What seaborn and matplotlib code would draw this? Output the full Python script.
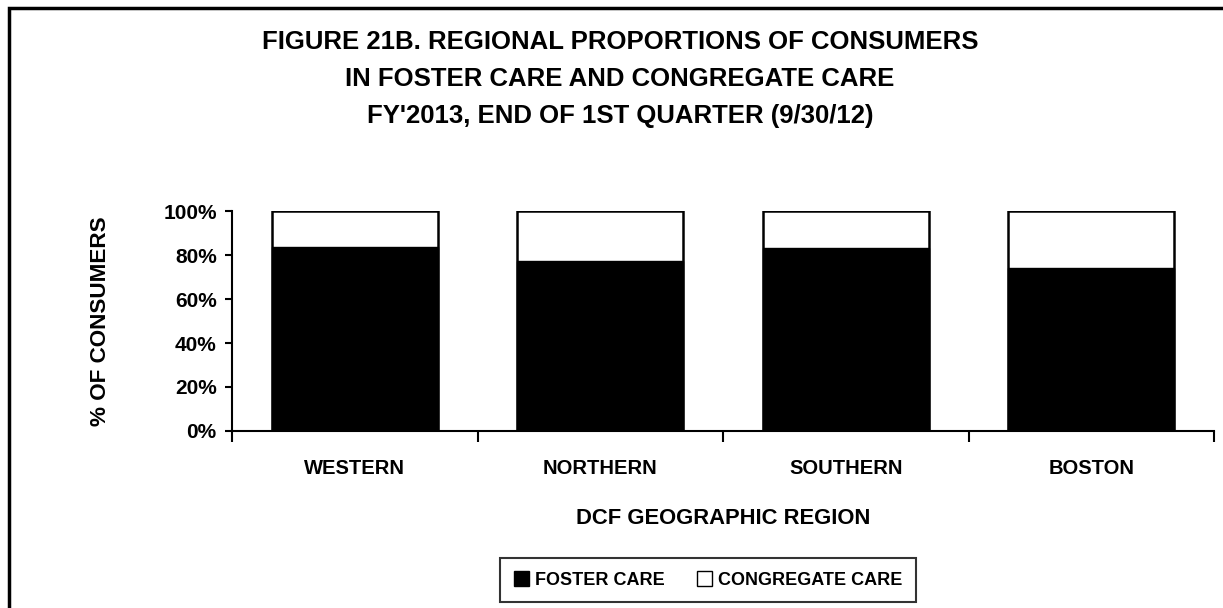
import matplotlib
matplotlib.use("Agg")
import matplotlib.pyplot as plt
from matplotlib.patches import Rectangle, Patch
import seaborn as sns
import pandas as pd

regions = ["WESTERN", "NORTHERN", "SOUTHERN", "BOSTON"]
foster_care = [83.8, 77.5, 83.0, 74.2]
congregate_care = [16.2, 22.5, 17.0, 25.8]
y_ticks = [0, 20, 40, 60, 80, 100]
y_tick_labels = ["0%", "20%", "40%", "60%", "80%", "100%"]
title_lines = ["FIGURE 21B. REGIONAL PROPORTIONS OF CONSUMERS",
               "IN FOSTER CARE AND CONGREGATE CARE",
               "FY'2013, END OF 1ST QUARTER (9/30/12)"]

sns.set_theme(style="white")
fam = ["Liberation Sans", "DejaVu Sans"]
plt.rcParams["font.family"] = fam
plt.rcParams["font.weight"] = "bold"
for k in ["text.color", "axes.labelcolor", "xtick.color", "ytick.color", "axes.edgecolor"]:
    plt.rcParams[k] = "black"

df = pd.DataFrame({"region": regions,
                   "foster": foster_care,
                   "total": [f + c for f, c in zip(foster_care, congregate_care)]})

fig = plt.figure(figsize=(12.23, 6.08), dpi=100)
ax = fig.add_axes([232/1223, 1-431/608, (1214-232)/1223, 220/608])

sns.barplot(data=df, x="region", y="total", color="white", edgecolor="black",
            linewidth=1.8, width=0.675, ax=ax, saturation=1)
sns.barplot(data=df, x="region", y="foster", color="black", edgecolor="black",
            linewidth=1.0, width=0.675, ax=ax, saturation=1)

ax.set_xlim(-0.5, 3.5)
ax.set_ylim(0, 100)
ax.set_yticks(y_ticks)
ax.set_yticklabels(y_tick_labels, fontsize=15, fontweight="bold")
ax.set_xticks([-0.5, 0.5, 1.5, 2.5, 3.5])
ax.set_xticklabels([])
ax.set_xticks(range(len(regions)), minor=True)
ax.set_xticklabels(regions, minor=True, fontsize=14.5, fontweight="bold")
ax.tick_params(axis="x", which="major", direction="out", length=8, width=1.5, color="black", bottom=True)
ax.tick_params(axis="x", which="minor", length=0, pad=20)
ax.tick_params(axis="y", direction="out", length=5, width=1.5, color="black", left=True, pad=6)
for s in ["top", "right"]:
    ax.spines[s].set_visible(False)
for s in ["left", "bottom"]:
    ax.spines[s].set_color("black")
    ax.spines[s].set_linewidth(1.5)
ax.set_xlabel("DCF GEOGRAPHIC REGION", fontsize=15.8, fontweight="bold", labelpad=22)
ax.set_ylabel("% OF CONSUMERS", fontsize=16.2, fontweight="bold", va="center")
ax.yaxis.set_label_coords(-(232 - 101) / (1214 - 232), 0.5)

for i, line in enumerate(title_lines):
    fig.text(0.507, 1 - (42 + 37*i)/608, line, ha="center", va="center",
             fontsize=18.5, fontweight="bold")

handles = [Patch(facecolor="black", edgecolor="black", label="FOSTER CARE"),
           Patch(facecolor="white", edgecolor="black", label="CONGREGATE CARE")]
leg = fig.legend(handles=handles, loc="center", bbox_to_anchor=(708/1223, 1-580/608),
                 ncol=2, fancybox=False, frameon=True, edgecolor="black",
                 prop={"family": fam, "weight": "bold", "size": 13},
                 handlelength=0.85, handleheight=0.85, handletextpad=0.3, columnspacing=1.8,
                 borderpad=0.75)
leg.get_frame().set_linewidth(1.5)

fig.patches.append(Rectangle((9/1223, -0.1), 1.2, 1 - 8/608 + 0.1, transform=fig.transFigure,
                             fill=False, edgecolor="black", linewidth=2.5, figure=fig))

fig.savefig("out.png", dpi=100)
